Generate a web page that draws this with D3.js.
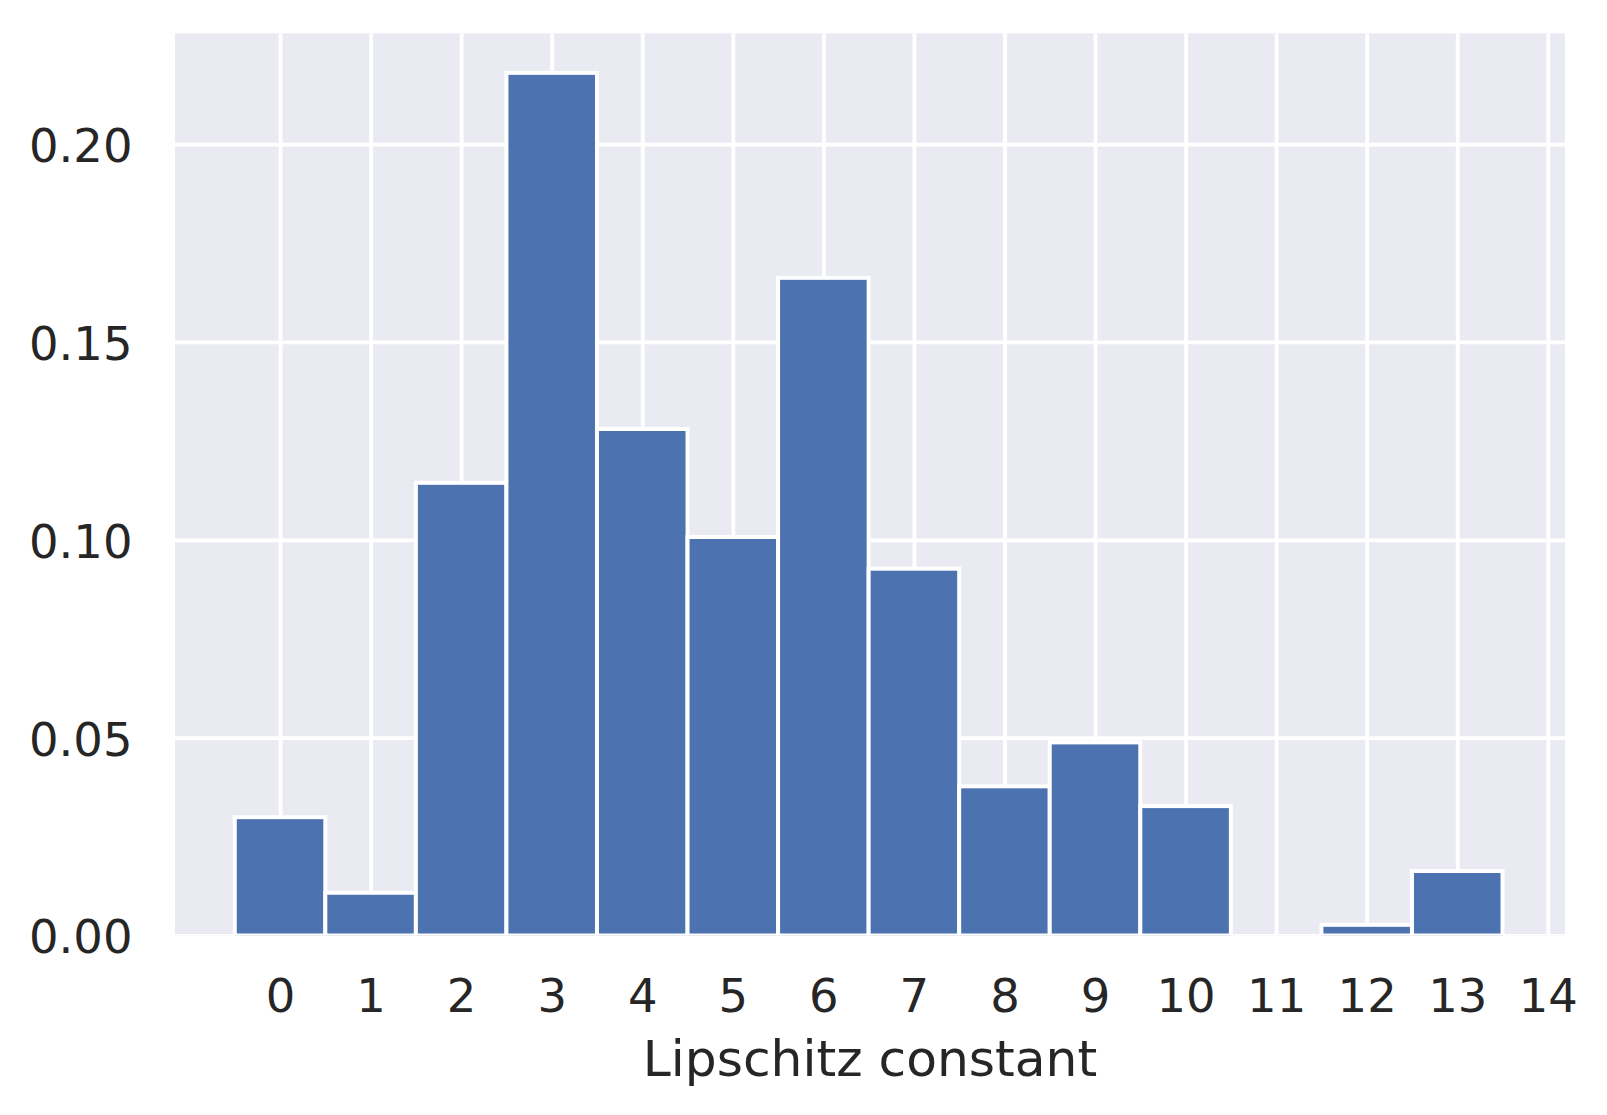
<!DOCTYPE html>
<html>
<head>
<meta charset="utf-8">
<script src="https://cdn.jsdelivr.net/npm/d3@7"></script>
<style>
  html, body { margin: 0; padding: 0; background: #ffffff; }
  svg { display: block; }
</style>
</head>
<body>
<div id="chart"></div>
<script>
// ---- Data ----
const binCenters = [0, 1, 2, 3, 4, 5, 6, 7, 8, 9, 10, 11, 12, 13];
const densities  = [0.0299, 0.0108, 0.1144, 0.2180, 0.1280, 0.1007, 0.1662,
                    0.0927, 0.0377, 0.0488, 0.0327, 0.0, 0.0027, 0.0163];
const binWidth = 1;
const xTickValues = [0, 1, 2, 3, 4, 5, 6, 7, 8, 9, 10, 11, 12, 13, 14];
const yTickValues = [0.00, 0.05, 0.10, 0.15, 0.20];
const xLabel = "Lipschitz constant";

// ---- Layout ----
const W = 1607, H = 1115;
const plot = { left: 175, right: 1565, top: 33.3, bottom: 935.5 };
const font = "'DejaVu Sans', 'Liberation Sans', sans-serif";
const textColor = "#262626";

const svg = d3.select("#chart").append("svg")
  .attr("width", W).attr("height", H)
  .attr("viewBox", `0 0 ${W} ${H}`);

svg.append("rect").attr("width", W).attr("height", H).attr("fill", "#ffffff");

const x = d3.scaleLinear().domain([-1.16, 14.19]).range([plot.left, plot.right]);
const y = d3.scaleLinear().domain([0, 0.228]).range([plot.bottom, plot.top]);

// clip
svg.append("defs").append("clipPath").attr("id", "plotclip")
  .append("rect")
  .attr("x", plot.left).attr("y", plot.top)
  .attr("width", plot.right - plot.left).attr("height", plot.bottom - plot.top);

// background
svg.append("rect")
  .attr("x", plot.left).attr("y", plot.top)
  .attr("width", plot.right - plot.left).attr("height", plot.bottom - plot.top)
  .attr("fill", "#EAEAF2");

// gridlines
const grid = svg.append("g").attr("clip-path", "url(#plotclip)");
grid.append("g")
  .attr("transform", `translate(0,${plot.bottom})`)
  .call(d3.axisBottom(x).tickValues(xTickValues).tickSize(-(plot.bottom - plot.top)).tickFormat(""))
  .call(g => g.select(".domain").remove())
  .call(g => g.selectAll(".tick line").attr("stroke", "#ffffff").attr("stroke-width", 3.8));
grid.append("g")
  .attr("transform", `translate(${plot.left},0)`)
  .call(d3.axisLeft(y).tickValues(yTickValues).tickSize(-(plot.right - plot.left)).tickFormat(""))
  .call(g => g.select(".domain").remove())
  .call(g => g.selectAll(".tick line").attr("stroke", "#ffffff").attr("stroke-width", 3.8));

// bars
svg.append("g").attr("clip-path", "url(#plotclip)")
  .selectAll("rect.bar")
  .data(binCenters.map((c, i) => ({ c, v: densities[i] })))
  .join("rect")
  .attr("class", "bar")
  .attr("x", d => x(d.c - binWidth / 2))
  .attr("width", d => x(d.c + binWidth / 2) - x(d.c - binWidth / 2))
  .attr("y", d => y(d.v))
  .attr("height", d => y(0) - y(d.v))
  .attr("fill", "#4C72B0")
  .attr("stroke", "#ffffff")
  .attr("stroke-width", 4);

// x axis labels
svg.append("g")
  .attr("transform", `translate(0,${plot.bottom})`)
  .call(d3.axisBottom(x).tickValues(xTickValues).tickSize(0).tickPadding(0).tickFormat(d3.format("d")))
  .call(g => g.select(".domain").remove())
  .call(g => g.selectAll(".tick text")
    .attr("y", 76.2).attr("dy", null)
    .attr("fill", textColor)
    .style("font-family", font).style("font-size", "46.5px"));

// y axis labels
svg.append("g")
  .attr("transform", `translate(${plot.left},0)`)
  .call(d3.axisLeft(y).tickValues(yTickValues).tickSize(0).tickPadding(0).tickFormat(d3.format(".2f")))
  .call(g => g.select(".domain").remove())
  .call(g => g.selectAll(".tick text")
    .attr("x", -42.5).attr("dy", null).attr("y", 17.4)
    .attr("text-anchor", "end")
    .attr("fill", textColor)
    .style("font-family", font).style("font-size", "46.5px"));

// x axis title
svg.append("text")
  .attr("x", (plot.left + plot.right) / 2)
  .attr("y", 1076)
  .attr("text-anchor", "middle")
  .attr("fill", textColor)
  .style("font-family", font).style("font-size", "50.3px")
  .text(xLabel);
</script>
</body>
</html>
